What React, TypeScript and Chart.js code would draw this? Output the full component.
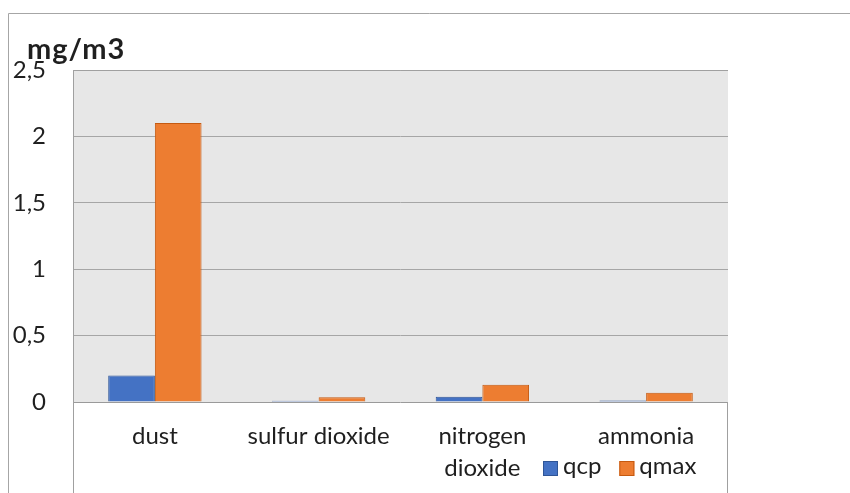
import React, { useEffect, useRef } from 'react';
import { Chart, registerables } from 'chart.js';

Chart.register(...registerables);

const categories: (string | string[])[] = ['dust', 'sulfur dioxide', ['nitrogen', 'dioxide'], 'ammonia'];
const seriesNames = ['qcp', 'qmax'];
const qcpValues = [0.2, 0.01, 0.04, 0.012];
const qmaxValues = [2.1, 0.035, 0.13, 0.07];
const yTicks = [0, 0.5, 1, 1.5, 2, 2.5];
const unitLabel = 'mg/m3';

const FONT = 'Lato, "Open Sans", sans-serif';
const TEXT = '#1f1f1f';

const decorPlugin = {
  id: 'decor',
  beforeDraw(chart: any) {
    const { ctx, chartArea: a } = chart;
    ctx.save();
    ctx.fillStyle = '#e7e7e7';
    ctx.fillRect(a.left, a.top, a.right - a.left, a.bottom - a.top);
    ctx.restore();
  },
  afterDraw(chart: any) {
    const { ctx, chartArea: a, width, height } = chart;
    ctx.save();
    ctx.lineWidth = 1;
    ctx.strokeStyle = '#a6a6a6';
    // outer frame
    ctx.beginPath();
    ctx.moveTo(8.5, height);
    ctx.lineTo(8.5, 13.5);
    ctx.lineTo(width, 13.5);
    ctx.stroke();
    // inner frame
    ctx.strokeStyle = '#a0a0a0';
    ctx.beginPath();
    ctx.moveTo(a.left + 0.5, height);
    ctx.lineTo(a.left + 0.5, a.top + 0.5);
    ctx.lineTo(a.right, a.top + 0.5);
    ctx.stroke();
    ctx.beginPath();
    ctx.moveTo(a.right - 0.5, a.bottom);
    ctx.lineTo(a.right - 0.5, height);
    ctx.stroke();
    // unit title
    ctx.fillStyle = TEXT;
    ctx.font = `bold 29px ${FONT}`;
    try { (ctx as any).letterSpacing = '1px'; } catch (e) {}
    ctx.textBaseline = 'alphabetic';
    ctx.textAlign = 'left';
    ctx.fillText(unitLabel, a.left - 46, a.top - 11);
    try { (ctx as any).letterSpacing = '0px'; } catch (e) {}
    // legend
    ctx.font = `24px ${FONT}`;
    ctx.textBaseline = 'middle';
    let x = a.left + 470;
    const yc = 468.5;
    chart.data.datasets.forEach((ds: any) => {
      ctx.fillStyle = ds.backgroundColor;
      ctx.fillRect(x, yc - 7.5, 15, 15);
      ctx.strokeStyle = ds.borderColor;
      ctx.strokeRect(x + 0.5, yc - 7, 14, 14);
      ctx.fillStyle = TEXT;
      ctx.fillText(ds.label, x + 20, yc - 2);
      x += 20 + ctx.measureText(ds.label).width + 18;
    });
    ctx.restore();
  },
};

export default function App() {
  const ref = useRef<HTMLCanvasElement | null>(null);
  useEffect(() => {
    if (!ref.current) return;
    const chart = new Chart(ref.current, {
      type: 'bar',
      data: {
        labels: categories,
        datasets: [
          {
            label: seriesNames[0],
            data: qcpValues,
            backgroundColor: '#4472c4',
            borderColor: '#2f5597',
            borderWidth: 1,
          },
          {
            label: seriesNames[1],
            data: qmaxValues,
            backgroundColor: '#ed7d31',
            borderColor: '#c55a11',
            borderWidth: 1,
          },
        ],
      },
      options: {
        animation: false,
        responsive: false,
        maintainAspectRatio: false,
        layout: { padding: { top: 70, right: 122, bottom: 0, left: 0 } },
        datasets: { bar: { categoryPercentage: 0.57, barPercentage: 1 } },
        plugins: {
          legend: { display: false },
          title: { display: false },
          tooltip: { enabled: false },
        },
        scales: {
          x: {
            grid: { display: false, drawTicks: false },
            border: { display: false },
            ticks: {
              color: TEXT,
              font: { family: FONT, size: 24, lineHeight: 1.33 },
              padding: 18,
              maxRotation: 0,
              autoSkip: false,
            },
            afterFit: (s: any) => {
              s.height = 91;
            },
          },
          y: {
            min: 0,
            max: 2.5,
            afterBuildTicks: (s: any) => {
              s.ticks = yTicks.map((v) => ({ value: v }));
            },
            grid: {
              drawTicks: false,
              color: (c: any) => (c.tick && c.tick.value === 0 ? '#9a9a9a' : '#a6a6a6'),
              lineWidth: 1,
            },
            border: { display: false },
            ticks: {
              color: TEXT,
              font: { family: FONT, size: 24 },
              padding: 27,
              callback: (v: any) => String(v).replace('.', ','),
            },
            afterFit: (s: any) => {
              s.width = 73;
            },
          },
        },
      },
      plugins: [decorPlugin],
    });
    return () => chart.destroy();
  }, []);
  return (
    <div style={{ position: 'fixed', left: 0, top: 0, width: 850, height: 493, background: '#fff' }}>
      <canvas ref={ref} width={850} height={493} style={{ width: 850, height: 493, display: 'block' }} />
    </div>
  );
}
